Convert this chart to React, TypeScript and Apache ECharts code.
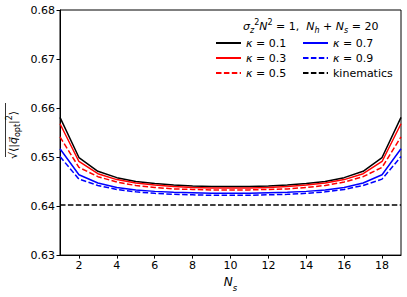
import React, { useEffect, useRef } from "react";
import * as echarts from "echarts";

const xValues = [1, 2, 3, 4, 5, 6, 7, 8, 9, 10, 11, 12, 13, 14, 15, 16, 17, 18, 19];
const xTicks = [2, 4, 6, 8, 10, 12, 14, 16, 18];
const yTicks = [0.63, 0.64, 0.65, 0.66, 0.67, 0.68];

const k01 = [0.6581, 0.6499, 0.6471, 0.6458, 0.645, 0.6446, 0.6443, 0.6441, 0.644, 0.644, 0.644, 0.6441, 0.6443, 0.6446, 0.645, 0.6458, 0.6471, 0.6499, 0.6581];
const k03 = [0.6568, 0.6491, 0.6466, 0.6454, 0.6447, 0.6443, 0.644, 0.6438, 0.6437, 0.6437, 0.6437, 0.6438, 0.644, 0.6443, 0.6447, 0.6454, 0.6466, 0.6491, 0.6568];
const k05 = [0.6541, 0.6479, 0.646, 0.6449, 0.6442, 0.6438, 0.6435, 0.6434, 0.6433, 0.6433, 0.6433, 0.6434, 0.6435, 0.6438, 0.6442, 0.6449, 0.646, 0.6479, 0.6541];
const k07 = [0.6517, 0.6464, 0.6447, 0.6438, 0.6433, 0.643, 0.6428, 0.6427, 0.6426, 0.6426, 0.6426, 0.6427, 0.6428, 0.643, 0.6433, 0.6438, 0.6447, 0.6464, 0.6517];
const k09 = [0.6501, 0.6455, 0.6442, 0.6434, 0.6429, 0.6426, 0.6424, 0.6423, 0.6422, 0.6422, 0.6422, 0.6423, 0.6424, 0.6426, 0.6429, 0.6434, 0.6442, 0.6455, 0.6501];
const kinematicsX = [1, 19];
const kinematicsY = [0.6402, 0.6402];

const names = ["κ = 0.1", "κ = 0.3", "κ = 0.5", "κ = 0.7", "κ = 0.9", "kinematics"];

const FONT = "DejaVu Sans";
const DASH = [5.5, 2.4];

export default function App() {
  const ref = useRef<HTMLDivElement>(null);
  useEffect(() => {
    document.body.style.margin = "0";
    const chart = echarts.init(ref.current!, null, { renderer: "svg" });
    const mk = (name: string, ys: number[], color: string, dashed: boolean) => ({
      name,
      type: "line",
      data: xValues.map((x, i) => [x, ys[i]]),
      symbol: "none",
      lineStyle: { color, width: 1.5, type: dashed ? DASH : "solid" },
      itemStyle: { color },
      z: 3,
    });
    const legendCommon = {
      orient: "vertical",
      itemWidth: 25,
      itemHeight: 8,
      itemGap: 1,
      top: 36,
      padding: 0,
      itemStyle: { opacity: 0 },
      formatter: (n: string) => n.replace("κ", "{i|κ}"),
      textStyle: {
        fontFamily: FONT,
        fontSize: 11,
        color: "#000",
        lineHeight: 14,
        rich: { i: { fontStyle: "italic", fontFamily: FONT, fontSize: 11, color: "#000" } },
      },
    };
    chart.setOption({
      animation: false,
      grid: { left: 60, right: 6, top: 10, bottom: 38, show: true, borderColor: "#000", borderWidth: 1, backgroundColor: "transparent" },
      xAxis: {
        type: "value",
        min: 1,
        max: 19,
        splitLine: { show: false },
        axisLine: { lineStyle: { color: "#000", width: 1 } },
        axisTick: { show: true, length: 3.5, customValues: xTicks, lineStyle: { color: "#000" } },
        axisLabel: { customValues: xTicks, fontFamily: FONT, fontSize: 11, color: "#000", margin: 5 },
        name: "{n|N}{s|s}",
        nameLocation: "middle",
        nameGap: 15,
        nameTextStyle: {
          rich: {
            n: { fontFamily: FONT, fontStyle: "italic", fontSize: 12, color: "#000", lineHeight: 16, verticalAlign: "top" },
            s: { fontFamily: FONT, fontStyle: "italic", fontSize: 8.5, color: "#000", lineHeight: 16, verticalAlign: "bottom", padding: [6, 0, 0, 0] },
          },
        },
      },
      yAxis: {
        type: "value",
        min: 0.63,
        max: 0.68,
        interval: 0.01,
        splitLine: { show: false },
        axisLine: { show: true, lineStyle: { color: "#000", width: 1 } },
        axisTick: { show: true, length: 3.5, lineStyle: { color: "#000" } },
        axisLabel: {
          fontFamily: FONT,
          fontSize: 11,
          color: "#000",
          margin: 5,
          formatter: (v: number) => {
            const t = yTicks.find((y) => Math.abs(y - v) < 1e-6);
            return t !== undefined ? t.toFixed(2) : "";
          },
        },
      },
      legend: [
        { ...legendCommon, left: 215, data: names.slice(0, 3) },
        { ...legendCommon, left: 302, data: names.slice(3, 6) },
      ],
      graphic: [
        {
          type: "text",
          left: 243,
          top: 18,
          style: {
            text: "{i|σ}{sub|z}{sup|2}{i|N}{sup|2}{r| = 1,  }{i|N}{sub|h}{r| + }{i|N}{sub|s}{r| = 20}",
            fontFamily: FONT,
            fontSize: 11,
            fill: "#000",
            rich: {
              i: { fontFamily: FONT, fontStyle: "italic", fontSize: 11, fill: "#000", lineHeight: 16, verticalAlign: "middle" },
              r: { fontFamily: FONT, fontSize: 11, fill: "#000", lineHeight: 16, verticalAlign: "middle" },
              sub: { fontFamily: FONT, fontStyle: "italic", fontSize: 8, fill: "#000", lineHeight: 16, verticalAlign: "bottom" },
              sup: { fontFamily: FONT, fontSize: 8, fill: "#000", lineHeight: 16, verticalAlign: "top" },
            },
          },
        },
        {
          type: "text",
          x: 13,
          y: 135,
          rotation: Math.PI / 2,
          style: {
            text: "√⟨|{q|q⃗}{sub|opt}|{sup|2}⟩",
            fontFamily: FONT,
            fontSize: 11,
            fill: "#000",
            align: "center",
            verticalAlign: "middle",
            rich: {
              q: { fontFamily: FONT, fontStyle: "italic", fontSize: 11, fill: "#000", lineHeight: 16, verticalAlign: "middle" },
              sub: { fontFamily: FONT, fontSize: 8, fill: "#000", lineHeight: 16, verticalAlign: "bottom" },
              sup: { fontFamily: FONT, fontSize: 8, fill: "#000", lineHeight: 16, verticalAlign: "top" },
            },
          },
        },
        {
          type: "line",
          shape: { x1: 5.5, y1: 103, x2: 5.5, y2: 157 },
          style: { stroke: "#000", lineWidth: 0.8 },
        },
      ],
      series: [
        mk(names[0], k01, "#000000", false),
        mk(names[1], k03, "#ff0000", false),
        mk(names[2], k05, "#ff0000", true),
        mk(names[3], k07, "#0000ff", false),
        mk(names[4], k09, "#0000ff", true),
        {
          name: names[5],
          type: "line",
          data: kinematicsX.map((x, i) => [x, kinematicsY[i]]),
          symbol: "none",
          lineStyle: { color: "#000000", width: 1.5, type: DASH },
          itemStyle: { color: "#000000" },
        },
      ],
    });
    return () => chart.dispose();
  }, []);
  return <div ref={ref} style={{ width: 407, height: 297 }} />;
}
